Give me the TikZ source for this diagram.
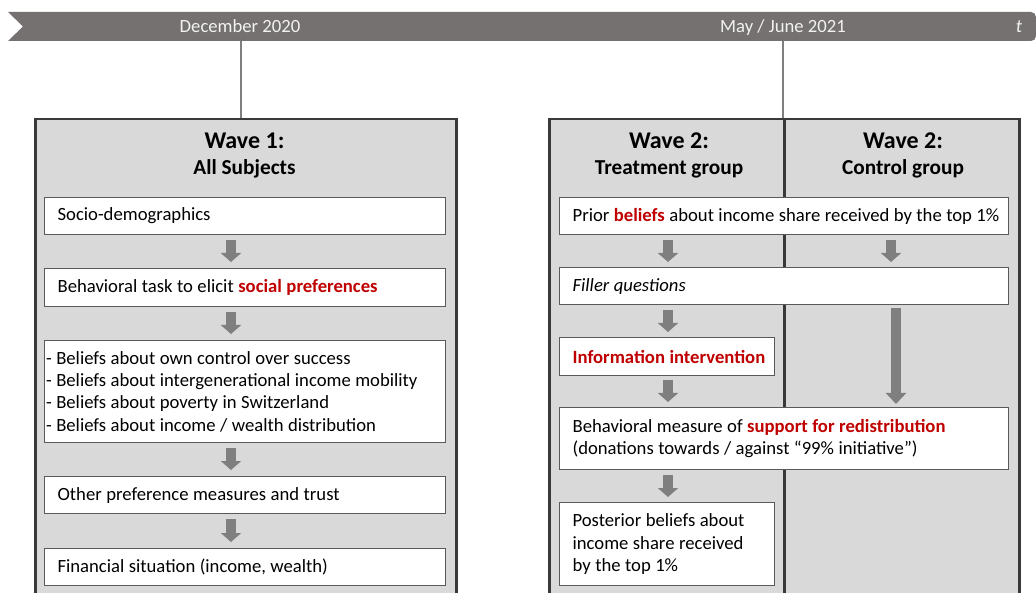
\documentclass[tikz,border=0pt]{standalone}
\usepackage{fontspec}
\setmainfont{Carlito}
\usetikzlibrary{arrows.meta}
\definecolor{barcol}{HTML}{767171}
\definecolor{tlcol}{HTML}{7F7F7F}
\definecolor{arrcol}{HTML}{7F7F7F}
\definecolor{bigfill}{HTML}{D9D9D9}
\definecolor{bigline}{HTML}{3B3838}
\definecolor{boxline}{HTML}{595959}
\definecolor{accent}{HTML}{C00000}
\definecolor{bartext}{HTML}{F2F2F2}
\newcommand{\bodyfont}{\fontsize{18.67}{22.4}\selectfont}
\newcommand{\tightsp}{\spaceskip=0.24em plus 0.1em minus 0.05em\relax\xspaceskip=0.3em\relax}
\newcommand{\redbf}[1]{\textcolor{accent}{\textbf{#1}}}
\begin{document}
\begin{tikzpicture}[x=1pt,y=-1pt,
  bigbox/.style={draw=bigline, fill=bigfill, line width=2.5pt, anchor=north west, inner sep=0pt},
  divline/.style={draw=bigline, line width=2.5pt},
  tline/.style={draw=tlcol, line width=2pt},
  ibox/.style={draw=boxline, fill=white, line width=1.2pt, anchor=north west, inner xsep=13pt, inner ysep=0pt, font=\bodyfont\tightsp, execute at begin node=\tightsp},
  bart/.style={text=bartext, font=\bodyfont, anchor=base, inner sep=0pt},
  ttlA/.style={font=\fontsize{24}{28}\selectfont\bfseries, anchor=base, inner sep=0pt},
  ttlB/.style={font=\fontsize{21.3}{25}\selectfont\bfseries, anchor=base, inner sep=0pt},
  barrow/.style={draw=arrcol, line width=10pt, -{Triangle[width=20pt,length=9pt]}},
  barrowlong/.style={draw=arrcol, line width=10pt, -{Triangle[width=20pt,length=11pt]}}
]
\useasboundingbox (0,0) rectangle (1036,593);
\clip (0,0) rectangle (1036,593);

% timeline bar
\fill[barcol] (8,12) [rounded corners=5pt] -- (1036,12) -- (1036,41) [sharp corners] -- (8,41) -- (23,26.5) -- cycle;
\node[bart] (dec) at (240,33) {December 2020};
\node[bart] (may) at (783,33) {May / June 2021};
\node[bart, font=\bodyfont\itshape] (tt) at (1019,33) {t};
\coordinate (t1) at (241,41);
\coordinate (t2) at (783,41);

% big boxes
\node[bigbox, minimum width=421pt, minimum height=500pt] (w1) at (34,118) {};
\node[bigbox, minimum width=470pt, minimum height=500pt] (w2) at (548,118) {};
\draw[divline] (w2.north) -- (w2.south);

\draw[tline] (t1) -- (t1 |- w1.north);
\draw[tline] (t2) -- (t2 |- w2.north);

% titles
\node[ttlA] (w1a) at (244.5,149) {Wave 1:};
\node[ttlB] (w1b) at (244.5,175) {All Subjects};
\node[ttlA] (w2a) at (669,149) {Wave 2:};
\node[ttlB] (w2b) at (669,175) {Treatment group};
\node[ttlA] (w3a) at (903,149) {Wave 2:};
\node[ttlB] (w3b) at (903,175) {Control group};

% left column boxes
\node[ibox, text width=375pt, minimum height=37pt] (sd) at (44,197) {Socio-demographics};
\node[ibox, text width=375pt, minimum height=38pt] (bt) at (44,268) {\mbox{Behavioral task to elicit \redbf{social preferences}}};
\node[ibox, inner xsep=1.5pt, text width=398pt, minimum height=102pt] (bel) at (44,340) {\mbox{- Beliefs about own control over success}\\\mbox{- Beliefs about intergenerational income mobility}\\\mbox{- Beliefs about poverty in Switzerland}\\\mbox{- Beliefs about income / wealth distribution}};
\node[ibox, text width=375pt, minimum height=37pt] (op) at (44,476) {\mbox{Other preference measures and trust}};
\node[ibox, text width=375pt, minimum height=37pt] (fs) at (44,548) {\mbox{Financial situation (income, wealth)}};

% right column boxes
\node[ibox, text width=423pt, minimum height=37pt] (pr) at (559,197) {\mbox{Prior \redbf{beliefs} about income share received by the top 1\%}};
\node[ibox, text width=423pt, minimum height=37pt] (fq) at (559,267) {\textit{Filler questions}};
\node[ibox, text width=189pt, minimum height=38pt] (ii) at (559,337) {\mbox{\redbf{Information intervention}}};
\node[ibox, text width=423pt, minimum height=62pt] (bm) at (559,407) {\mbox{Behavioral measure of \redbf{support for redistribution}}\\\mbox{(donations towards / against “99\% initiative”)}};
\node[ibox, text width=189pt, minimum height=83pt] (pb) at (559,502) {\mbox{Posterior beliefs about}\\\mbox{income share received}\\\mbox{by the top 1\%}};

% left arrows
\draw[barrow] ([xshift=187pt,yshift=-5pt]sd.south west) -- ([xshift=187pt,yshift=6pt]bt.north west);
\draw[barrow] ([xshift=187pt,yshift=-5pt]bt.south west) -- ([xshift=187pt,yshift=6pt]bel.north west);
\draw[barrow] ([xshift=187pt,yshift=-5pt]bel.south west) -- ([xshift=187pt,yshift=6pt]op.north west);
\draw[barrow] ([xshift=187pt,yshift=-5pt]op.south west) -- ([xshift=187pt,yshift=6pt]fs.north west);

% treatment arrows
\draw[barrow] ([xshift=109pt,yshift=-5pt]pr.south west) -- ([xshift=109pt,yshift=5pt]fq.north west);
\draw[barrow] ([xshift=109pt,yshift=-5pt]fq.south west) -- ([xshift=109pt,yshift=5pt]ii.north west);
\draw[barrow] ([xshift=109pt,yshift=-4pt]ii.south west) -- ([xshift=109pt,yshift=5pt]bm.north west);
\draw[barrow] ([xshift=109pt,yshift=-5pt]bm.south west) -- ([xshift=109pt,yshift=5pt]pb.north west);

% control arrows
\draw[barrow] ([xshift=332pt,yshift=-5pt]pr.south west) -- ([xshift=332pt,yshift=5pt]fq.north west);
\draw[barrowlong] ([xshift=337pt,yshift=-3pt]fq.south west) -- ([xshift=337pt,yshift=3pt]bm.north west);
\end{tikzpicture}
\end{document}
